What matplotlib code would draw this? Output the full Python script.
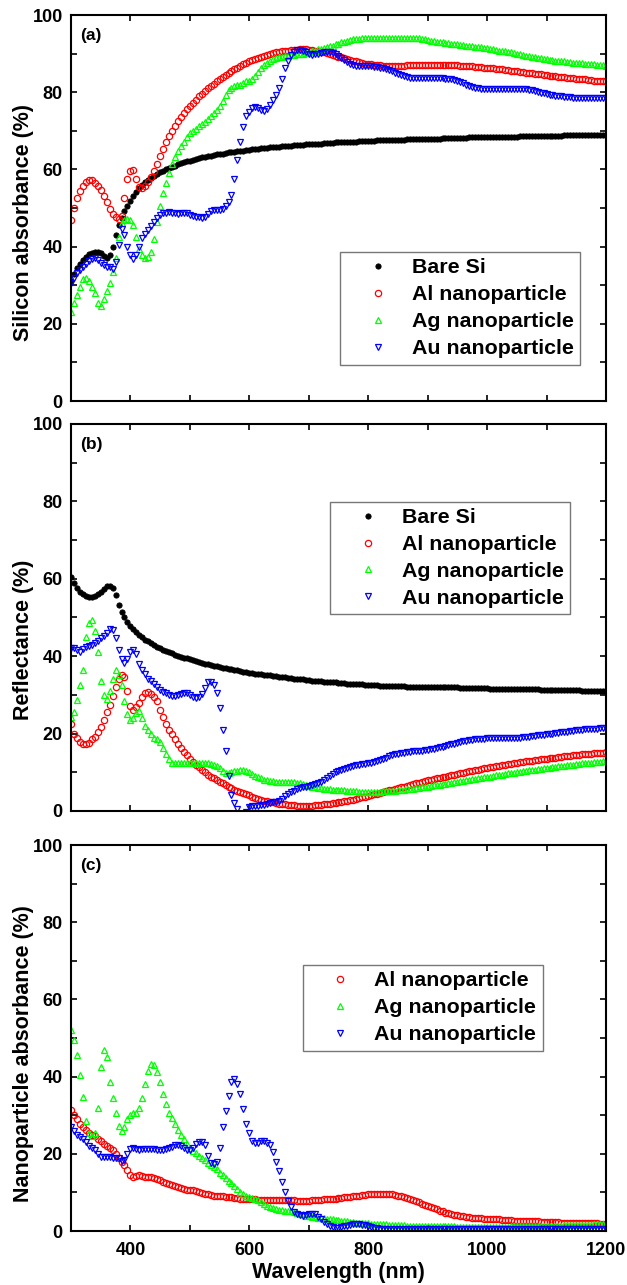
import numpy as np
import matplotlib.pyplot as plt

plt.rcParams['font.family'] = ['Liberation Sans', 'DejaVu Sans']
plt.rcParams['font.weight'] = 'bold'
plt.rcParams['axes.labelweight'] = 'bold'

# wavelength grid (nm), 5 nm steps
wavelength = np.arange(300, 1201, 5)

# (a) silicon absorbance (%)
a_bare = [
    31.0, 33.0, 34.5, 35.6, 36.5, 37.3, 38.0, 38.4, 38.6, 38.6,
    38.4, 37.7, 37.0, 37.8, 40.0, 43.0, 45.5, 47.5, 49.2, 50.6,
    51.8, 53.0, 54.2, 55.2, 56.0, 56.7, 57.3, 57.9, 58.4, 58.9,
    59.3, 59.7, 60.0, 60.4, 60.7, 61.0, 61.3, 61.6, 61.8, 62.1,
    62.3, 62.5, 62.7, 62.9, 63.1, 63.3, 63.4, 63.6, 63.7, 63.9,
    64.0, 64.1, 64.2, 64.4, 64.5, 64.6, 64.7, 64.8, 64.9, 65.0,
    65.1, 65.2, 65.3, 65.4, 65.5, 65.6, 65.6, 65.7, 65.8, 65.9,
    65.9, 66.0, 66.1, 66.1, 66.2, 66.3, 66.3, 66.4, 66.4, 66.5,
    66.5, 66.6, 66.6, 66.7, 66.7, 66.8, 66.8, 66.9, 66.9, 67.0,
    67.0, 67.0, 67.1, 67.1, 67.2, 67.2, 67.2, 67.3, 67.3, 67.3,
    67.4, 67.4, 67.4, 67.5, 67.5, 67.5, 67.6, 67.6, 67.6, 67.7,
    67.7, 67.7, 67.7, 67.8, 67.8, 67.8, 67.8, 67.9, 67.9, 67.9,
    67.9, 68.0, 68.0, 68.0, 68.0, 68.1, 68.1, 68.1, 68.1, 68.2,
    68.2, 68.2, 68.2, 68.2, 68.3, 68.3, 68.3, 68.3, 68.3, 68.4,
    68.4, 68.4, 68.4, 68.4, 68.4, 68.5, 68.5, 68.5, 68.5, 68.5,
    68.5, 68.6, 68.6, 68.6, 68.6, 68.6, 68.6, 68.6, 68.7, 68.7,
    68.7, 68.7, 68.7, 68.7, 68.7, 68.7, 68.8, 68.8, 68.8, 68.8,
    68.8, 68.8, 68.8, 68.8, 68.8, 68.8, 68.9, 68.9, 68.9, 68.9,
    68.9]
a_al = [
    47.0, 50.0, 52.5, 54.5, 55.8, 56.8, 57.3, 57.2, 56.6, 55.7,
    54.6, 53.2, 51.5, 49.8, 48.5, 47.6, 47.2, 48.0, 52.5, 57.5,
    59.5, 59.8, 57.5, 55.5, 55.3, 55.6, 56.8, 58.0, 59.5, 61.5,
    63.5, 65.3, 67.0, 68.6, 70.0, 71.3, 72.5, 73.6, 74.6, 75.6,
    76.5, 77.3, 78.1, 78.9, 79.6, 80.3, 81.0, 81.6, 82.2, 82.8,
    83.4, 84.0, 84.5, 85.0, 85.5, 86.0, 86.4, 86.8, 87.2, 87.6,
    88.0, 88.3, 88.6, 88.9, 89.2, 89.5, 89.7, 89.9, 90.1, 90.3,
    90.5, 90.6, 90.7, 90.8, 90.9, 91.0, 91.0, 91.1, 91.1, 91.1,
    91.0, 90.9, 90.8, 90.7, 90.5, 90.3, 90.1, 89.9, 89.7, 89.4,
    89.2, 89.0, 88.8, 88.6, 88.4, 88.2, 88.0, 87.8, 87.6, 87.4,
    87.3, 87.2, 87.1, 87.0, 87.0, 86.9, 86.9, 86.9, 86.9, 86.9,
    86.9, 86.9, 86.9, 87.0, 87.0, 87.0, 87.0, 87.1, 87.1, 87.1,
    87.1, 87.1, 87.1, 87.1, 87.1, 87.1, 87.1, 87.0, 87.0, 87.0,
    87.0, 86.9, 86.9, 86.8, 86.8, 86.7, 86.6, 86.6, 86.5, 86.4,
    86.4, 86.3, 86.2, 86.1, 86.0, 85.9, 85.8, 85.7, 85.6, 85.5,
    85.4, 85.3, 85.2, 85.1, 85.0, 84.9, 84.8, 84.7, 84.6, 84.5,
    84.4, 84.3, 84.2, 84.1, 84.0, 83.9, 83.9, 83.8, 83.7, 83.6,
    83.5, 83.4, 83.3, 83.3, 83.2, 83.1, 83.0, 83.0, 82.9, 82.8,
    82.8]
a_ag = [
    23.0, 25.5, 27.5, 29.5, 31.5, 32.0, 31.0, 29.5, 28.0, 25.5,
    24.5, 26.5, 28.5, 30.5, 33.5, 37.0, 42.5, 46.0, 47.0, 47.2,
    46.8, 45.5, 42.5, 39.5, 37.8, 37.0, 37.3, 38.5, 42.0, 46.5,
    50.5, 54.0, 56.5, 59.0, 61.5, 63.2, 64.8, 66.0, 67.2, 68.3,
    69.5, 70.0, 70.6, 71.2, 71.8, 72.4, 73.0, 73.8, 74.6, 75.4,
    76.5, 77.8, 79.2, 80.6, 81.2, 81.5, 81.8, 82.0, 82.3, 82.8,
    83.0, 83.5, 84.3, 85.3, 86.2, 87.0, 87.6, 88.1, 88.5, 88.8,
    89.0, 89.2, 89.4, 89.5, 89.6, 89.7, 89.8, 89.9, 90.0, 90.2,
    90.4, 90.6, 90.8, 91.1, 91.3, 91.5, 91.7, 91.9, 92.1, 92.4,
    92.6, 92.9, 93.1, 93.3, 93.5, 93.7, 93.8, 93.9, 94.0, 94.1,
    94.1, 94.1, 94.1, 94.1, 94.0, 94.0, 94.0, 94.0, 94.0, 94.0,
    94.0, 94.0, 94.0, 94.0, 94.0, 94.1, 94.1, 94.0, 93.9, 93.8,
    93.6, 93.4, 93.3, 93.1, 93.0, 92.9, 92.8, 92.7, 92.6, 92.5,
    92.4, 92.3, 92.2, 92.1, 92.0, 91.9, 91.8, 91.7, 91.6, 91.5,
    91.4, 91.3, 91.1, 91.0, 90.8, 90.7, 90.6, 90.4, 90.3, 90.1,
    90.0, 89.8, 89.7, 89.5, 89.4, 89.2, 89.0, 88.9, 88.8, 88.6,
    88.5, 88.4, 88.3, 88.2, 88.2, 88.1, 88.0, 87.9, 87.8, 87.7,
    87.6, 87.6, 87.5, 87.4, 87.3, 87.3, 87.2, 87.1, 87.0, 87.0,
    86.9]
a_au = [
    30.5, 32.0, 33.2, 34.0, 34.8, 35.5, 36.2, 36.8, 37.0, 36.6,
    35.8, 35.2, 34.8, 34.6, 34.2, 36.0, 40.5, 44.5, 43.0, 39.8,
    37.8, 36.8, 37.8, 40.0, 42.2, 43.2, 44.3, 45.3, 46.5, 47.3,
    48.2, 48.6, 48.8, 48.9, 48.8, 48.6, 48.5, 48.7, 48.8, 48.6,
    48.3, 48.0, 47.8, 47.6, 47.4, 47.8, 48.5, 49.2, 49.6, 49.5,
    49.4, 49.8, 50.4, 51.5, 53.5, 57.5, 62.5, 67.0, 71.0, 73.8,
    75.0, 76.0, 76.3, 75.8, 75.4, 75.2, 75.6, 76.6, 78.0, 79.3,
    81.2, 83.5, 86.2, 88.2, 89.6, 90.5, 91.0, 91.0, 90.8, 90.4,
    89.9, 89.6, 89.8, 90.0, 90.2, 90.4, 90.5, 90.4, 90.2, 89.9,
    89.4, 88.9, 88.3, 87.8, 87.4, 87.0, 86.8, 86.7, 86.7, 86.7,
    86.7, 86.7, 86.6, 86.5, 86.4, 86.2, 86.0, 85.7, 85.4, 85.0,
    84.7, 84.4, 84.2, 84.0, 83.8, 83.7, 83.7, 83.7, 83.7, 83.7,
    83.7, 83.7, 83.7, 83.7, 83.6, 83.6, 83.5, 83.4, 83.3, 83.1,
    82.9, 82.6, 82.3, 82.0, 81.7, 81.4, 81.2, 81.0, 80.9, 80.9,
    80.9, 80.9, 80.9, 80.9, 80.9, 80.9, 80.9, 80.9, 80.9, 80.9,
    80.9, 80.9, 80.9, 80.8, 80.7, 80.6, 80.4, 80.1, 79.9, 79.7,
    79.5, 79.3, 79.2, 79.1, 79.0, 78.9, 78.8, 78.8, 78.7, 78.6,
    78.6, 78.5, 78.5, 78.5, 78.4, 78.4, 78.4, 78.4, 78.4, 78.4,
    78.4]

# (b) reflectance (%)
b_bare = [
    60.5, 59.0, 57.5, 56.6, 56.0, 55.6, 55.4, 55.4, 55.6, 56.0,
    56.6, 57.4, 58.0, 58.2, 57.6, 55.8, 53.3, 51.5, 50.0, 48.8,
    47.8, 47.0, 46.2, 45.5, 44.9, 44.3, 43.8, 43.3, 42.8, 42.4,
    42.0, 41.6, 41.3, 41.0, 40.7, 40.4, 40.1, 39.9, 39.6, 39.4,
    39.2, 38.9, 38.7, 38.5, 38.3, 38.1, 37.9, 37.7, 37.5, 37.4,
    37.2, 37.0, 36.9, 36.7, 36.6, 36.4, 36.3, 36.1, 36.0, 35.9,
    35.7, 35.6, 35.5, 35.4, 35.3, 35.2, 35.1, 35.0, 34.9, 34.8,
    34.7, 34.6, 34.5, 34.4, 34.3, 34.2, 34.1, 34.0, 34.0, 33.9,
    33.8, 33.7, 33.7, 33.6, 33.5, 33.4, 33.4, 33.3, 33.2, 33.2,
    33.1, 33.1, 33.0, 32.9, 32.9, 32.8, 32.8, 32.7, 32.7, 32.6,
    32.6, 32.6, 32.5, 32.5, 32.4, 32.4, 32.4, 32.3, 32.3, 32.3,
    32.2, 32.2, 32.2, 32.1, 32.1, 32.1, 32.1, 32.1, 32.1, 32.1,
    32.1, 32.1, 32.0, 32.0, 32.0, 32.0, 31.9, 31.9, 31.9, 31.9,
    31.9, 31.8, 31.8, 31.8, 31.8, 31.8, 31.7, 31.7, 31.7, 31.7,
    31.7, 31.6, 31.6, 31.6, 31.6, 31.6, 31.5, 31.5, 31.5, 31.5,
    31.5, 31.5, 31.4, 31.4, 31.4, 31.4, 31.4, 31.4, 31.3, 31.3,
    31.3, 31.3, 31.3, 31.3, 31.3, 31.2, 31.2, 31.2, 31.2, 31.2,
    31.2, 31.2, 31.1, 31.1, 31.1, 31.1, 31.1, 31.1, 31.1, 31.0,
    31.0]
b_al = [
    22.5, 20.0, 18.8, 17.9, 17.4, 17.2, 17.6, 18.5, 19.2, 20.3,
    21.8, 23.5, 25.5, 27.5, 29.8, 32.0, 34.0, 35.2, 34.5, 31.0,
    27.0, 26.2, 26.8, 28.0, 29.5, 30.5, 30.8, 30.3, 29.5, 28.3,
    26.0, 24.2, 22.5, 21.0, 19.8, 18.6, 17.4, 16.3, 15.3, 14.4,
    13.5, 12.7, 12.0, 11.3, 10.6, 10.0, 9.4, 8.9, 8.5, 8.0,
    7.6, 7.1, 6.7, 6.3, 5.9, 5.5, 5.2, 4.9, 4.6, 4.3,
    4.0, 3.7, 3.4, 3.1, 2.9, 2.7, 2.5, 2.3, 2.2, 2.0,
    1.9, 1.8, 1.7, 1.6, 1.5, 1.5, 1.4, 1.4, 1.4, 1.4,
    1.4, 1.4, 1.5, 1.5, 1.6, 1.7, 1.8, 1.9, 2.0, 2.1,
    2.2, 2.3, 2.5, 2.6, 2.8, 2.9, 3.1, 3.3, 3.5, 3.7,
    3.9, 4.1, 4.3, 4.5, 4.7, 4.9, 5.1, 5.3, 5.5, 5.7,
    5.9, 6.1, 6.3, 6.5, 6.7, 6.9, 7.1, 7.3, 7.5, 7.7,
    7.9, 8.1, 8.2, 8.4, 8.6, 8.8, 8.9, 9.1, 9.3, 9.4,
    9.6, 9.8, 9.9, 10.1, 10.2, 10.4, 10.5, 10.7, 10.8, 11.0,
    11.1, 11.3, 11.4, 11.5, 11.7, 11.8, 11.9, 12.1, 12.2, 12.3,
    12.4, 12.6, 12.7, 12.8, 12.9, 13.0, 13.1, 13.2, 13.3, 13.4,
    13.5, 13.6, 13.7, 13.8, 13.9, 14.0, 14.1, 14.2, 14.3, 14.4,
    14.5, 14.5, 14.6, 14.7, 14.8, 14.8, 14.9, 15.0, 15.0, 15.1,
    15.2]
b_ag = [
    24.3, 25.6, 28.6, 32.5, 36.5, 45.0, 48.5, 49.3, 46.5, 41.0,
    33.5, 30.0, 28.8, 31.0, 34.0, 36.5, 35.0, 32.5, 28.5, 25.0,
    23.5, 24.0, 25.3, 25.7, 24.0, 22.0, 20.9, 19.8, 18.8, 18.5,
    17.8, 16.2, 14.8, 13.5, 12.5, 12.3, 12.3, 12.4, 12.5, 12.5,
    12.5, 12.5, 12.5, 12.5, 12.4, 12.4, 12.3, 12.2, 12.0, 11.6,
    11.0, 10.3, 9.9, 9.8, 10.0, 10.2, 10.4, 10.6, 10.6, 10.4,
    10.1, 9.6, 9.1, 8.7, 8.4, 8.1, 7.9, 7.8, 7.7, 7.6,
    7.6, 7.6, 7.6, 7.5, 7.5, 7.4, 7.3, 7.1, 6.9, 6.7,
    6.5, 6.3, 6.1, 6.0, 5.9, 5.8, 5.7, 5.6, 5.5, 5.4,
    5.4, 5.3, 5.3, 5.2, 5.2, 5.1, 5.1, 5.0, 5.0, 5.0,
    5.0, 5.0, 5.0, 5.0, 5.0, 5.1, 5.1, 5.1, 5.2, 5.2,
    5.3, 5.4, 5.5, 5.6, 5.7, 5.8, 5.9, 6.0, 6.1, 6.2,
    6.3, 6.4, 6.6, 6.7, 6.8, 6.9, 7.0, 7.2, 7.3, 7.4,
    7.5, 7.7, 7.8, 7.9, 8.0, 8.2, 8.3, 8.4, 8.5, 8.7,
    8.8, 8.9, 9.0, 9.2, 9.3, 9.4, 9.5, 9.7, 9.8, 9.9,
    10.0, 10.1, 10.2, 10.4, 10.5, 10.6, 10.7, 10.8, 10.9, 11.0,
    11.1, 11.2, 11.3, 11.4, 11.5, 11.6, 11.7, 11.8, 11.9, 12.0,
    12.1, 12.2, 12.3, 12.3, 12.4, 12.5, 12.6, 12.6, 12.7, 12.8,
    12.8]
b_au = [
    42.0, 42.0, 41.6, 41.2, 41.8, 42.4, 42.6, 42.8, 43.3, 43.9,
    44.6, 45.3, 46.1, 46.9, 46.8, 44.8, 41.5, 39.2, 38.3, 39.2,
    41.0, 41.6, 40.6, 38.0, 36.5, 35.3, 34.2, 33.5, 32.8, 32.0,
    31.2, 30.8, 30.4, 30.0, 29.6, 29.6, 29.9, 30.2, 30.5, 30.4,
    30.0, 29.5, 29.2, 29.4, 30.2, 31.8, 33.2, 33.4, 32.6, 30.5,
    26.5, 21.0, 15.5, 9.0, 4.0, 2.0, 0.5, -0.8, -1.0, -0.2,
    1.0, 1.2, 1.3, 1.4, 1.5, 1.6, 1.8, 2.0, 2.2, 2.4,
    2.7, 3.2, 3.8, 4.3, 4.8, 5.2, 5.6, 5.9, 6.1, 6.3,
    6.5, 6.7, 6.9, 7.2, 7.6, 8.1, 8.6, 9.1, 9.6, 10.0,
    10.3, 10.6, 10.9, 11.2, 11.4, 11.6, 11.8, 12.0, 12.1, 12.2,
    12.3, 12.5, 12.7, 12.9, 13.2, 13.5, 13.8, 14.1, 14.4, 14.6,
    14.8, 15.0, 15.1, 15.2, 15.3, 15.4, 15.5, 15.6, 15.6, 15.7,
    15.8, 15.9, 16.0, 16.2, 16.4, 16.6, 16.8, 17.0, 17.2, 17.4,
    17.6, 17.8, 18.0, 18.2, 18.3, 18.4, 18.5, 18.6, 18.7, 18.7,
    18.8, 18.8, 18.8, 18.8, 18.8, 18.8, 18.8, 18.9, 18.9, 18.9,
    18.9, 18.9, 19.0, 19.1, 19.2, 19.3, 19.4, 19.5, 19.6, 19.7,
    19.8, 19.9, 20.0, 20.1, 20.2, 20.3, 20.4, 20.5, 20.6, 20.7,
    20.8, 20.9, 21.0, 21.1, 21.2, 21.2, 21.3, 21.3, 21.4, 21.4,
    21.4]

# (c) nanoparticle absorbance (%)
c_al = [
    31.3, 30.0, 28.9, 27.8, 27.0, 26.2, 25.5, 25.0, 24.5, 23.9,
    23.2, 22.6, 22.0, 21.6, 21.0, 20.0, 18.8, 17.9, 17.0, 15.8,
    14.5, 14.0, 14.2, 14.4, 14.2, 14.1, 14.0, 13.9, 13.7, 13.6,
    13.2, 12.8, 12.5, 12.2, 12.0, 11.7, 11.4, 11.1, 10.9, 10.7,
    10.6, 10.5, 10.3, 10.1, 9.9, 9.7, 9.5, 9.3, 9.2, 9.1,
    9.0, 9.0, 8.9, 8.8, 8.7, 8.6, 8.5, 8.4, 8.3, 8.2,
    8.2, 8.2, 8.2, 8.1, 8.1, 8.1, 8.0, 8.0, 8.0, 8.0,
    8.0, 8.0, 8.0, 8.0, 8.0, 8.0, 7.9, 7.9, 7.9, 7.9,
    7.9, 8.0, 8.0, 8.1, 8.1, 8.2, 8.2, 8.3, 8.3, 8.4,
    8.5, 8.6, 8.7, 8.8, 8.9, 9.0, 9.1, 9.2, 9.3, 9.4,
    9.5, 9.6, 9.6, 9.7, 9.7, 9.7, 9.6, 9.6, 9.5, 9.4,
    9.2, 9.0, 8.8, 8.6, 8.3, 8.0, 7.7, 7.4, 7.1, 6.8,
    6.5, 6.2, 5.9, 5.6, 5.3, 5.1, 4.8, 4.6, 4.4, 4.2,
    4.1, 3.9, 3.8, 3.7, 3.6, 3.5, 3.4, 3.3, 3.3, 3.2,
    3.2, 3.1, 3.1, 3.0, 3.0, 2.9, 2.9, 2.8, 2.8, 2.7,
    2.7, 2.7, 2.6, 2.6, 2.6, 2.5, 2.5, 2.5, 2.4, 2.4,
    2.4, 2.3, 2.3, 2.3, 2.3, 2.2, 2.2, 2.2, 2.2, 2.1,
    2.1, 2.1, 2.1, 2.0, 2.0, 2.0, 2.0, 2.0, 1.9, 1.9,
    1.9]
c_ag = [
    52.0, 49.5, 45.5, 40.5, 34.8, 28.5, 25.5, 24.5, 25.5, 32.0,
    42.5, 46.8, 45.0, 38.7, 34.5, 30.5, 27.3, 25.8, 27.0, 29.0,
    30.1, 30.5, 30.7, 31.8, 34.4, 38.0, 41.5, 43.2, 43.0, 41.3,
    38.5, 35.5, 32.8, 30.5, 29.2, 27.8, 26.3, 25.0, 23.8, 22.6,
    21.5, 20.7, 20.1, 19.5, 19.0, 18.3, 17.7, 17.1, 16.6, 16.0,
    15.1, 14.4, 13.7, 13.0, 12.5, 11.7, 10.9, 10.1, 9.5, 9.0,
    8.7, 8.5, 8.3, 8.1, 7.6, 7.1, 6.6, 6.2, 5.9, 5.7,
    5.5, 5.4, 5.3, 5.2, 5.1, 4.9, 4.7, 4.5, 4.3, 4.0,
    3.8, 3.7, 3.6, 3.5, 3.4, 3.3, 3.2, 3.1, 3.0, 2.9,
    2.8, 2.7, 2.6, 2.5, 2.4, 2.3, 2.2, 2.2, 2.1, 2.0,
    2.0, 1.9, 1.9, 1.8, 1.8, 1.7, 1.7, 1.6, 1.6, 1.6,
    1.5, 1.5, 1.5, 1.4, 1.4, 1.4, 1.4, 1.3, 1.3, 1.3,
    1.3, 1.3, 1.3, 1.2, 1.2, 1.2, 1.2, 1.2, 1.2, 1.2,
    1.1, 1.1, 1.1, 1.1, 1.1, 1.1, 1.1, 1.1, 1.1, 1.1,
    1.1, 1.1, 1.1, 1.1, 1.1, 1.1, 1.1, 1.1, 1.2, 1.2,
    1.2, 1.2, 1.2, 1.2, 1.2, 1.3, 1.3, 1.3, 1.3, 1.3,
    1.3, 1.4, 1.4, 1.4, 1.4, 1.4, 1.5, 1.5, 1.5, 1.5,
    1.5, 1.6, 1.6, 1.6, 1.6, 1.6, 1.7, 1.7, 1.7, 1.7,
    1.7]
c_au = [
    27.0, 26.0, 25.0, 24.3, 23.8, 23.0, 22.0, 21.4, 21.0, 20.0,
    19.3, 19.2, 19.2, 19.2, 19.0, 18.9, 18.8, 18.2, 18.4, 20.0,
    21.2, 21.4, 21.2, 21.1, 21.2, 21.3, 21.3, 21.2, 21.2, 21.1,
    21.1, 21.1, 21.2, 21.4, 21.8, 22.2, 22.2, 22.0, 21.6, 21.0,
    21.0, 21.6, 22.6, 23.1, 23.0, 22.2, 19.5, 17.6, 17.3, 17.9,
    21.5, 27.0, 31.0, 35.0, 38.5, 39.3, 38.2, 35.5, 31.5, 27.8,
    25.3, 23.2, 22.8, 22.9, 23.2, 23.2, 22.8, 22.3, 20.5, 18.0,
    15.5, 12.8, 10.0, 7.8, 6.2, 5.0, 4.3, 4.1, 4.0, 4.1,
    4.4, 4.5, 4.3, 3.7, 3.0, 2.4, 1.8, 1.3, 1.0, 0.9,
    0.9, 1.0, 1.2, 1.4, 1.6, 1.8, 1.8, 1.7, 1.6, 1.5,
    1.3, 1.1, 0.9, 0.7, 0.6, 0.5, 0.5, 0.4, 0.4, 0.4,
    0.4, 0.4, 0.4, 0.4, 0.4, 0.4, 0.5, 0.5, 0.5, 0.5,
    0.5, 0.5, 0.5, 0.5, 0.5, 0.5, 0.5, 0.5, 0.5, 0.5,
    0.5, 0.5, 0.5, 0.5, 0.5, 0.4, 0.4, 0.4, 0.4, 0.4,
    0.4, 0.4, 0.4, 0.4, 0.4, 0.4, 0.4, 0.4, 0.4, 0.4,
    0.4, 0.4, 0.4, 0.4, 0.4, 0.4, 0.4, 0.4, 0.4, 0.5,
    0.5, 0.5, 0.5, 0.5, 0.5, 0.5, 0.5, 0.5, 0.5, 0.5,
    0.5, 0.5, 0.5, 0.5, 0.5, 0.5, 0.6, 0.6, 0.6, 0.6,
    0.6]

labels = ['Bare Si', 'Al nanoparticle', 'Ag nanoparticle', 'Au nanoparticle']
ylabels = ['Silicon absorbance (%)', 'Reflectance (%)', 'Nanoparticle absorbance (%)']

styles = {
    'Bare Si': dict(marker='o', color='black', ms=3.8, mew=0.6),
    'Al nanoparticle': dict(marker='o', mfc='none', mec='red', ms=4.5, mew=0.9),
    'Ag nanoparticle': dict(marker='^', mfc='none', mec='#00ff00', ms=5.0, mew=0.9),
    'Au nanoparticle': dict(marker='v', mfc='none', mec='blue', ms=5.0, mew=0.9),
}

fig = plt.figure(figsize=(6.27, 12.85), dpi=100)
ax_a = fig.add_axes([0.1132, 0.6879, 0.8533, 0.3004])
ax_b = fig.add_axes([0.1132, 0.3689, 0.8533, 0.3012])
ax_c = fig.add_axes([0.1132, 0.0420, 0.8533, 0.3004])

panels = [
    (ax_a, [a_bare, a_al, a_ag, a_au], labels, '(a)', (0.503, 0.386), 0.462),
    (ax_b, [b_bare, b_al, b_ag, b_au], labels, '(b)', (0.485, 0.799), 0.442),
    (ax_c, [c_al, c_ag, c_au], labels[1:], '(c)', (0.433, 0.689), 0.459),
]

for i, (ax, series, names, tag, legpos, ycen) in enumerate(panels):
    for vals, name in zip(series, names):
        ax.plot(wavelength, vals, ls='none', label=name, **styles[name])
    ax.set_xlim(300, 1200)
    ax.set_ylim(0, 100)
    ax.set_xticks(np.arange(400, 1201, 200))
    ax.set_xticks(np.arange(300, 1201, 100), minor=True)
    ax.set_yticks(np.arange(0, 101, 20))
    ax.set_yticks(np.arange(0, 101, 10), minor=True)
    ax.tick_params(which='both', direction='in', top=True, right=True,
                   length=4.5, width=1.2, labelsize=13, pad=6)
    ax.tick_params(axis='x', pad=8)
    for sp in ax.spines.values():
        sp.set_linewidth(1.5)
    ax.set_ylabel(ylabels[i], fontsize=15.5)
    ax.yaxis.set_label_coords(-0.069, ycen)
    ax.text(0.017, 0.967, tag, transform=ax.transAxes, fontsize=12.5,
            fontweight='bold', va='top', ha='left')
    leg = ax.legend(loc='upper left', bbox_to_anchor=legpos, fontsize=15.4,
                    numpoints=1, handlelength=2.9, handletextpad=0.15,
                    borderpad=0.3, labelspacing=0.37, fancybox=False,
                    framealpha=1, edgecolor='#777777', borderaxespad=0)
    leg.get_frame().set_linewidth(1.0)
    if ax is not ax_c:
        ax.tick_params(axis='x', labelbottom=False)

ax_c.set_xlabel('Wavelength (nm)', fontsize=15.5, labelpad=2)

fig.savefig('out.png', dpi=100)
